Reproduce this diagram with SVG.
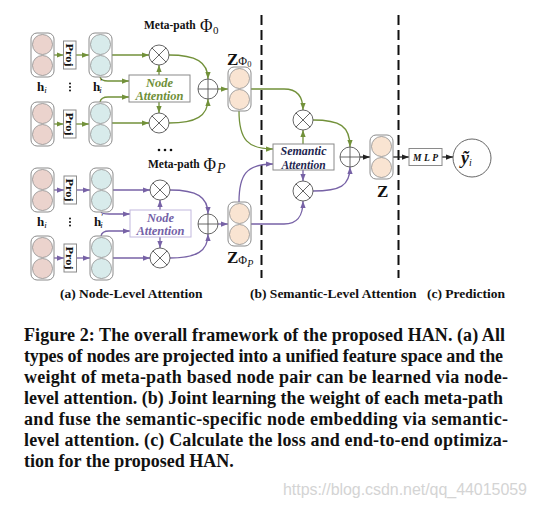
<svg xmlns="http://www.w3.org/2000/svg" width="536" height="509" viewBox="0 0 536 509">
<defs>
<marker id="ag" viewBox="0 0 8 6" refX="8" refY="3" markerWidth="7" markerHeight="5.5" markerUnits="userSpaceOnUse" orient="auto"><path d="M0,0 L8,3 L0,6 z" fill="#72913a"/></marker>
<marker id="ap" viewBox="0 0 8 6" refX="8" refY="3" markerWidth="7" markerHeight="5.5" markerUnits="userSpaceOnUse" orient="auto"><path d="M0,0 L8,3 L0,6 z" fill="#7762a6"/></marker>
<marker id="ak" viewBox="0 0 8 6" refX="8" refY="3" markerWidth="7" markerHeight="5.5" markerUnits="userSpaceOnUse" orient="auto"><path d="M0,0 L8,3 L0,6 z" fill="#222"/></marker>
</defs>
<style>
.stack{fill:#fff;stroke:#8c8c8c;stroke-width:1}
.ch{fill:#ebd3cd;stroke:#8c8c8c;stroke-width:0.8}
.chp{fill:#d8ebeb;stroke:#8c8c8c;stroke-width:0.8}
.cz{fill:#f9e4d2;stroke:#8c8c8c;stroke-width:0.8}
.op{fill:#fff;stroke:#555;stroke-width:0.9}
.opl{stroke:#555;stroke-width:0.9;fill:none}
.g{fill:none;stroke:#72913a;stroke-width:1.3;marker-end:url(#ag)}
.p{fill:none;stroke:#7762a6;stroke-width:1.3;marker-end:url(#ap)}
.k{fill:none;stroke:#222;stroke-width:1.3;marker-end:url(#ak)}
.box{fill:#fff;stroke:#8a8a8a;stroke-width:1}
.boxp{fill:#fff;stroke:#c2b8de;stroke-width:1}
.dash{stroke:#111;stroke-width:2;stroke-dasharray:10 5;fill:none}
.t{font-family:"Liberation Serif","Times New Roman",serif}
.b{font-weight:bold}
.it{font-style:italic}
.proj{font-family:"Liberation Serif",serif;font-weight:bold;font-size:11px;fill:#111}
.na{font-family:"Liberation Serif",serif;font-weight:bold;font-style:italic;font-size:12.5px;text-anchor:middle}
.cap{font-family:"Liberation Serif","Times New Roman",serif;font-weight:bold;font-size:18px;fill:#111}
.lab{font-family:"Liberation Serif",serif;font-weight:bold;font-size:13.5px;fill:#111}
</style>

<!-- dashed separators -->
<g id="separators">
<line class="dash" x1="261.5" y1="15" x2="261.5" y2="278"/>
<line class="dash" x1="398.5" y1="15" x2="398.5" y2="278"/>
</g>

<!-- connectors -->
<g id="connectors">
<path class="g" d="M53,55 L63.5,55"/>
<path class="g" d="M76,55 L89,55"/>
<path class="g" d="M53,124 L63.5,124"/>
<path class="g" d="M76,124 L89,124"/>
<path class="g" d="M112,55 L149,55"/>
<path class="g" d="M112,123 L149,123"/>
<path class="g" d="M100,77 Q101,81 108,81 L129,81"/>
<path class="g" d="M100,102 Q101,97 108,97 L129,97"/>
<path class="g" d="M159,75 L159,65"/>
<path class="g" d="M159,102 L159,113"/>
<path class="g" d="M169,55 C196,55 208,62 208,79"/>
<path class="g" d="M169,123 C196,123 208,116 208,99"/>
<path class="g" d="M218,89 L228,89"/>
<path class="p" d="M53,190 L64,190"/>
<path class="p" d="M77,190 L90,190"/>
<path class="p" d="M53,258 L64,258"/>
<path class="p" d="M77,258 L90,258"/>
<path class="p" d="M113,190 L150,190"/>
<path class="p" d="M113,258 L150,258"/>
<path class="p" d="M101,212 Q102,214 109,214 L130,214"/>
<path class="p" d="M101,236 Q102,231 109,231 L130,231"/>
<path class="p" d="M160,210 L160,200"/>
<path class="p" d="M160,237 L160,248"/>
<path class="p" d="M170,190 C197,190 208,197 208,214"/>
<path class="p" d="M170,258 C197,258 208,251 208,234"/>
<path class="p" d="M218,224 L228,224"/>
<path class="g" d="M251,89 L284,89 C297,89 303,96 303,110"/>
<path class="g" d="M239,111 C239,140 248,149 273,149"/>
<path class="g" d="M303,144 L303,130"/>
<path class="g" d="M313,120 C340,120 350,126 350,147"/>
<path class="p" d="M239,202 C239,175 246,164 273,164"/>
<path class="p" d="M303,170 L303,181"/>
<path class="p" d="M251,224 L284,224 C297,224 303,217 303,201"/>
<path class="p" d="M313,191 C340,191 350,186 350,167"/>
<path class="k" d="M360,157 L370,157"/>
<path class="k" d="M393,157 L409,157"/>
<path class="k" d="M442,157 L453,157"/>
</g>

<!-- meta-path 0 nodes -->
<g id="h-A"><rect class="stack" x="31" y="33" width="23" height="44" rx="6"/><circle class="ch" cx="42.5" cy="44.5" r="10"/><circle class="ch" cx="42.5" cy="65.5" r="10"/></g>
<g id="h-B"><rect class="stack" x="31" y="102" width="23" height="44" rx="6"/><circle class="ch" cx="42.5" cy="113.5" r="10"/><circle class="ch" cx="42.5" cy="134.5" r="10"/></g>
<g id="proj-A"><rect class="box" x="63.5" y="41" width="12.5" height="28"/><text class="proj" transform="translate(69.75,55) rotate(90)" text-anchor="middle" dy="4" textLength="23" lengthAdjust="spacingAndGlyphs">Proj</text></g>
<g id="proj-B"><rect class="box" x="63.5" y="110" width="12.5" height="28"/><text class="proj" transform="translate(69.75,124) rotate(90)" text-anchor="middle" dy="4" textLength="23" lengthAdjust="spacingAndGlyphs">Proj</text></g>
<g id="hp-A"><rect class="stack" x="89" y="33" width="23" height="44" rx="6"/><circle class="chp" cx="100.5" cy="44.5" r="10"/><circle class="chp" cx="100.5" cy="65.5" r="10"/></g>
<g id="hp-B"><rect class="stack" x="89" y="102" width="23" height="44" rx="6"/><circle class="chp" cx="100.5" cy="113.5" r="10"/><circle class="chp" cx="100.5" cy="134.5" r="10"/></g>
<g id="labels-0" class="t" fill="#111">
<text x="37" y="91" class="b" font-size="13">h<tspan class="it" font-weight="normal" font-size="9" dy="2">i</tspan></text>
<circle cx="70" cy="83.5" r="1"/><circle cx="70" cy="87" r="1"/><circle cx="70" cy="90.5" r="1"/>
<text x="93" y="91" class="b" font-size="13">h<tspan font-weight="normal" font-size="9" dy="-6">′</tspan><tspan class="it" font-weight="normal" font-size="9" dx="-3" dy="8">i</tspan></text>
</g>
<g id="mult-A"><circle class="op" cx="159" cy="55" r="10"/><path class="opl" d="M151.9,47.9 L166.1,62.1 M166.1,47.9 L151.9,62.1"/></g>
<g id="mult-B"><circle class="op" cx="159" cy="123" r="10"/><path class="opl" d="M151.9,115.9 L166.1,130.1 M166.1,115.9 L151.9,130.1"/></g>
<g id="node-attention-0"><rect class="box" x="129" y="75" width="61" height="27"/><text class="na" fill="#6f8f38"><tspan x="159.5" y="86.5">Node</tspan><tspan x="159.5" y="99.5">Attention</tspan></text></g>
<g id="sum-0"><circle class="op" cx="208" cy="89" r="10"/><path class="opl" d="M198,89 L218,89 M208,79 L208,99"/></g>
<g id="z-phi0"><rect class="stack" x="228" y="67" width="23" height="44" rx="6"/><circle class="cz" cx="239.5" cy="78.5" r="10"/><circle class="cz" cx="239.5" cy="99.5" r="10"/>
<text class="t b" x="227" y="65" font-size="17" fill="#111">Z<tspan font-weight="normal" font-size="12">Φ</tspan><tspan font-weight="normal" font-size="8.5" dy="2">0</tspan></text></g>
<g id="title-0" fill="#111"><text class="t b" x="144" y="29" font-size="11.5">Meta-path</text><text class="t" x="200" y="32" font-size="19" textLength="12.5" lengthAdjust="spacingAndGlyphs">Φ</text><text class="t" x="213" y="34" font-size="11">0</text></g>

<g id="ellipsis" fill="#111"><circle cx="159" cy="150" r="1.3"/><circle cx="165" cy="150" r="1.3"/><circle cx="171" cy="150" r="1.3"/></g>

<!-- meta-path P nodes -->
<g id="title-P" fill="#111"><text class="t b" x="148" y="168" font-size="11.5">Meta-path</text><text class="t" x="203.5" y="170.5" font-size="19" textLength="12.5" lengthAdjust="spacingAndGlyphs">Φ</text><text class="t it" x="217" y="173" font-size="14">P</text></g>
<g id="h-C"><rect class="stack" x="31" y="168" width="23" height="44" rx="6"/><circle class="ch" cx="42.5" cy="179.5" r="10"/><circle class="ch" cx="42.5" cy="200.5" r="10"/></g>
<g id="h-D"><rect class="stack" x="31" y="236" width="23" height="44" rx="6"/><circle class="ch" cx="42.5" cy="247.5" r="10"/><circle class="ch" cx="42.5" cy="268.5" r="10"/></g>
<g id="proj-C"><rect class="box" x="64" y="176" width="12.5" height="28"/><text class="proj" transform="translate(70.25,190) rotate(90)" text-anchor="middle" dy="4" textLength="23" lengthAdjust="spacingAndGlyphs">Proj</text></g>
<g id="proj-D"><rect class="box" x="64" y="244" width="12.5" height="28"/><text class="proj" transform="translate(70.25,258) rotate(90)" text-anchor="middle" dy="4" textLength="23" lengthAdjust="spacingAndGlyphs">Proj</text></g>
<g id="hp-C"><rect class="stack" x="90" y="168" width="23" height="44" rx="6"/><circle class="chp" cx="101.5" cy="179.5" r="10"/><circle class="chp" cx="101.5" cy="200.5" r="10"/></g>
<g id="hp-D"><rect class="stack" x="90" y="236" width="23" height="44" rx="6"/><circle class="chp" cx="101.5" cy="247.5" r="10"/><circle class="chp" cx="101.5" cy="268.5" r="10"/></g>
<g id="labels-P" class="t" fill="#111">
<text x="37" y="226" class="b" font-size="13">h<tspan class="it" font-weight="normal" font-size="9" dy="2">i</tspan></text>
<circle cx="70" cy="218.5" r="1"/><circle cx="70" cy="222" r="1"/><circle cx="70" cy="225.5" r="1"/>
<text x="94" y="226" class="b" font-size="13">h<tspan font-weight="normal" font-size="9" dy="-6">′</tspan><tspan class="it" font-weight="normal" font-size="9" dx="-3" dy="8">i</tspan></text>
</g>
<g id="mult-C"><circle class="op" cx="160" cy="190" r="10"/><path class="opl" d="M152.9,182.9 L167.1,197.1 M167.1,182.9 L152.9,197.1"/></g>
<g id="mult-D"><circle class="op" cx="160" cy="258" r="10"/><path class="opl" d="M152.9,250.9 L167.1,265.1 M167.1,250.9 L152.9,265.1"/></g>
<g id="node-attention-P"><rect class="boxp" x="130" y="210" width="61" height="27"/><text class="na" fill="#7462a8"><tspan x="160.5" y="221.5">Node</tspan><tspan x="160.5" y="234.5">Attention</tspan></text></g>
<g id="sum-P"><circle class="op" cx="208" cy="224" r="10"/><path class="opl" d="M198,224 L218,224 M208,214 L208,234"/></g>
<g id="z-phiP"><rect class="stack" x="228" y="202" width="23" height="44" rx="6"/><circle class="cz" cx="239.5" cy="213.5" r="10"/><circle class="cz" cx="239.5" cy="234.5" r="10"/>
<text class="t b" x="227" y="263" font-size="17" fill="#111">Z<tspan font-weight="normal" font-size="12" dy="1">Φ</tspan><tspan class="it" font-weight="normal" font-size="10" dy="3">P</tspan></text></g>

<!-- semantic level -->
<g id="sem-mult-0"><circle class="op" cx="303" cy="120" r="10"/><path class="opl" d="M295.9,112.9 L310.1,127.1 M310.1,112.9 L295.9,127.1"/></g>
<g id="semantic-attention"><rect class="box" x="273" y="144" width="61" height="26"/><text class="na" fill="#1e2650" style="font-size:11.5px"><tspan x="303.5" y="155" textLength="46" lengthAdjust="spacingAndGlyphs">Semantic</tspan><tspan x="303.5" y="168.5">Attention</tspan></text></g>
<g id="sem-mult-P"><circle class="op" cx="303" cy="191" r="10"/><path class="opl" d="M295.9,183.9 L310.1,198.1 M310.1,183.9 L295.9,198.1"/></g>
<g id="sem-sum"><circle class="op" cx="350" cy="157" r="10"/><path class="opl" d="M340,157 L360,157 M350,147 L350,167"/></g>
<g id="z"><rect class="stack" x="370" y="135" width="23" height="44" rx="6"/><circle class="cz" cx="381.5" cy="146.5" r="10"/><circle class="cz" cx="381.5" cy="167.5" r="10"/>
<text class="t b" x="377" y="197" font-size="17" fill="#111">Z</text></g>

<!-- prediction -->
<g id="mlp"><rect class="box" x="409" y="148.5" width="33" height="17"/><text class="t b it" x="413" y="160.5" font-size="9.5" fill="#111" textLength="25" lengthAdjust="spacing">MLP</text></g>
<g id="y-pred"><circle class="op" cx="472" cy="158" r="19"/><text class="t b it" x="461" y="164" font-size="18" fill="#111">ỹ<tspan font-weight="normal" font-size="10" dy="2">i</tspan></text></g>

<g id="section-labels">
<text class="lab" x="60" y="298">(a) Node-Level Attention</text>
<text class="lab" x="250" y="298">(b) Semantic-Level Attention</text>
<text class="lab" x="427" y="298">(c) Prediction</text>
</g>

<g id="caption">
<text class="cap" x="24" y="341" textLength="481" lengthAdjust="spacing">Figure 2: The overall framework of the proposed HAN. (a) All</text>
<text class="cap" x="24" y="362" textLength="479" lengthAdjust="spacing">types of nodes are projected into a unified feature space and the</text>
<text class="cap" x="24" y="383" textLength="484" lengthAdjust="spacing">weight of meta-path based node pair can be learned via node-</text>
<text class="cap" x="24" y="404" textLength="479" lengthAdjust="spacing">level attention. (b) Joint learning the weight of each meta-path</text>
<text class="cap" x="24" y="425" textLength="484" lengthAdjust="spacing">and fuse the semantic-specific node embedding via semantic-</text>
<text class="cap" x="24" y="446" textLength="484" lengthAdjust="spacing">level attention. (c) Calculate the loss and end-to-end optimiza-</text>
<text class="cap" x="24" y="467">tion for the proposed HAN.</text>
</g>
<text id="watermark" x="283" y="495" font-family="Liberation Sans, Arial, sans-serif" font-size="16" fill="#d4d4d4" textLength="244" lengthAdjust="spacing">https://blog.csdn.net/qq_44015059</text>
</svg>
